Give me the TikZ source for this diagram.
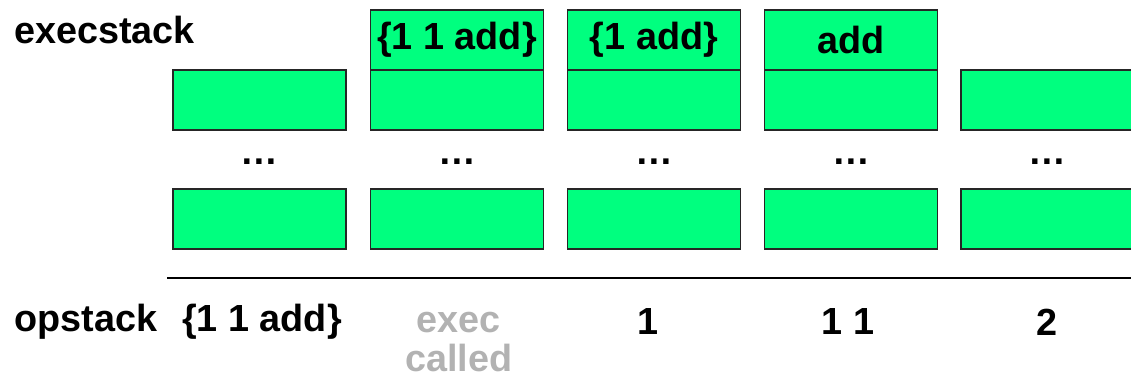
\documentclass[tikz,border=0pt]{standalone}
\usepackage{fontspec}
\setmainfont{Liberation Sans}
\usepackage{tikz}
\usetikzlibrary{positioning}

\definecolor{cellgreen}{RGB}{0,255,127}
\definecolor{fadedtext}{RGB}{178,178,178}

\begin{document}
\begin{tikzpicture}
	\tikzset{
		big/.style={font=\bfseries\fontsize{21.5}{22.7}\selectfont},
		cell/.style={draw=black!85,fill=cellgreen,line width=0.6pt,
			minimum width=3.46cm,minimum height=1.2cm,inner sep=0pt,big},
		label/.style={big,anchor=west,inner sep=0pt}
	}
	\useasboundingbox (0,0) rectangle (22.62,7.6);
	\node[label] (exec) at (0.28,7.0) {execstack};
	\node[label] (op) at (0.28,1.16) {opstack};
	% top of the stack
	\node[cell] (t2) at (9.14,6.8) {\{1 1 add\}};
	\node[cell] (t3) at (13.08,6.8) {\{1 add\}};
	\node[cell] (t4) at (17.02,6.8) {add};
	% upper cells
	\node[cell] (u1) at (5.19,5.6) {};
	\node[cell] (u2) at (9.14,5.6) {};
	\node[cell] (u3) at (13.08,5.6) {};
	\node[cell] (u4) at (17.02,5.6) {};
	\node[cell] (u5) at (20.95,5.6) {};
	% gaps
	\node[big] (d1) at (5.19,4.36) {\dots};
	\node[big] (d2) at (9.14,4.36) {\dots};
	\node[big] (d3) at (13.08,4.36) {\dots};
	\node[big] (d4) at (17.02,4.36) {\dots};
	\node[big] (d5) at (20.95,4.36) {\dots};
	% bottom cells
	\node[cell] (b1) at (5.19,3.22) {};
	\node[cell] (b2) at (9.14,3.22) {};
	\node[cell] (b3) at (13.08,3.22) {};
	\node[cell] (b4) at (17.02,3.22) {};
	\node[cell] (b5) at (20.95,3.22) {};
	% operand stack
	\coordinate (l) at (3.34,2.04);
	\coordinate (r) at (22.62,2.04);
	\draw[line width=1pt] (l) -- (r);
	\node[big] (o1) at (5.24,1.16) {\{1 1 add\}};
	\node[big,text=fadedtext,align=center] (o2) at (9.18,0.76) {exec\\called};
	\node[big] (o3) at (12.96,1.16) {1};
	\node[big] (o4) at (16.96,1.16) {1 1};
	\node[big] (o5) at (20.94,1.16) {2};
\end{tikzpicture}
\end{document}
